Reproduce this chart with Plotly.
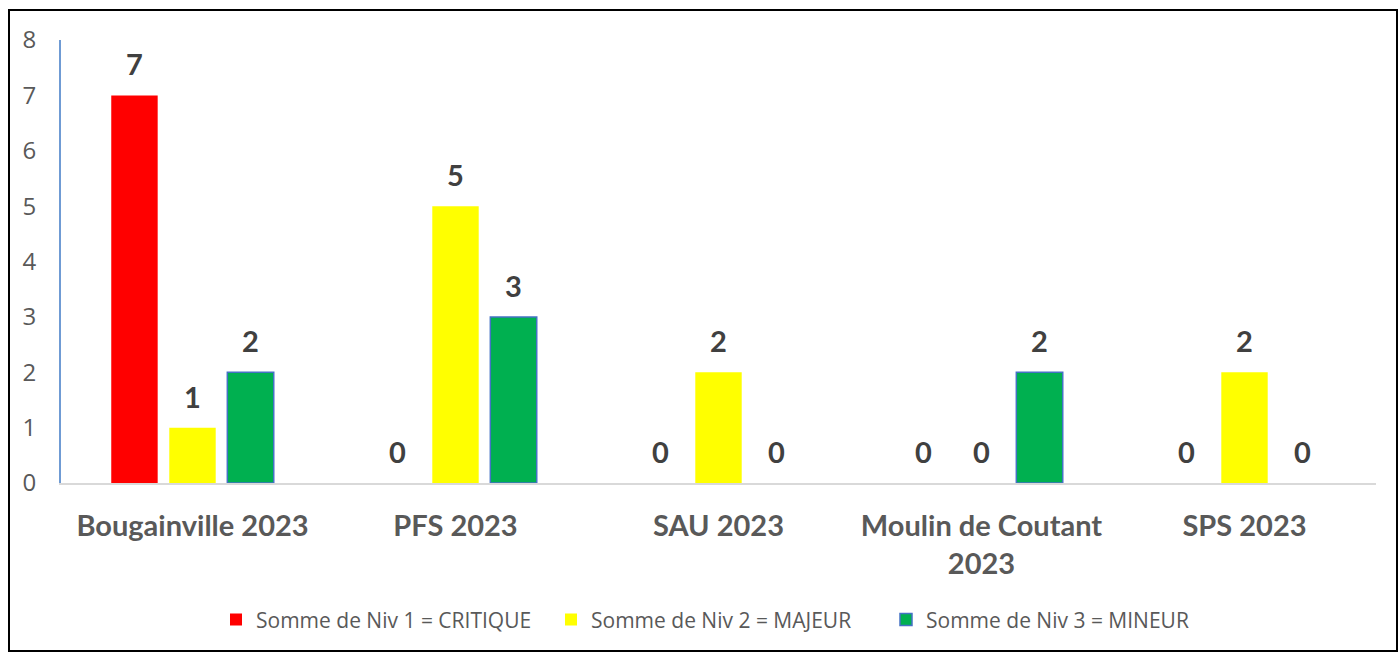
import plotly.graph_objects as go

categories = ["Bougainville 2023", "PFS 2023", "SAU 2023", "Moulin de Coutant<br>2023", "SPS 2023"]
series_names = ["Somme de Niv 1 = CRITIQUE", "Somme de Niv 2 = MAJEUR", "Somme de Niv 3 = MINEUR"]
niv1 = [7, 0, 0, 0, 0]
niv2 = [1, 5, 2, 0, 2]
niv3 = [2, 3, 0, 2, 0]
y_ticks = [0, 1, 2, 3, 4, 5, 6, 7, 8]

colors = ["#FF0000", "#FFFF00", "#00B050"]
line_colors = [None, None, "#4472C4"]
values = [niv1, niv2, niv3]

fig = go.Figure()
for name, vals, c, lc in zip(series_names, values, colors, line_colors):
    widths = [1.5 if (lc and v > 0) else 0 for v in vals]
    fig.add_trace(go.Bar(
        x=categories, y=vals, name=name,
        marker=dict(color=c, line=dict(color=lc if lc else c, width=widths)),
    ))

slot = 58
annotations = []
for i, vals in enumerate(values):
    for cat, v in zip(categories, vals):
        annotations.append(dict(
            x=cat, y=v, xref="x", yref="y", text=str(v), showarrow=False,
            xshift=(i - 1) * slot, yanchor="bottom", yshift=12,
            font=dict(family="Lato", size=29, color="#404040", weight="bold"),
        ))

fig.update_layout(
    width=1398, height=652,
    margin=dict(l=61, r=22, t=40, b=169),
    paper_bgcolor="white", plot_bgcolor="white",
    barmode="group", bargap=0.338, bargroupgap=0.2,
    annotations=annotations,
    showlegend=True,
    legend=dict(orientation="h", x=0.5, xanchor="center", y=-0.309, yanchor="middle",
                font=dict(family="Open Sans", size=21, color="#595959"),
                itemwidth=30, entrywidth=290, traceorder="normal"),
    shapes=[dict(type="rect", xref="paper", yref="paper",
                 x0=(9 - 61) / 1315, x1=(1397 - 61) / 1315,
                 y0=(483 - 651) / 443, y1=(483 - 10) / 443,
                 line=dict(color="black", width=2), fillcolor="rgba(0,0,0,0)", layer="below")],
)
fig.update_xaxes(
    showgrid=False, showline=True, linecolor="#D9D9D9", linewidth=2,
    tickfont=dict(family="Lato", size=29, color="#595959", weight="bold"),
    ticks="", ticklabelstandoff=16,
)
fig.update_yaxes(
    range=[0, 8], tickvals=y_ticks, showgrid=False, zeroline=False,
    showline=True, linecolor="#6F9BD4", linewidth=2,
    tickfont=dict(family="Open Sans", size=24, color="#595959"),
    ticks="", ticklabelstandoff=18,
)
fig.write_html("out.html")
